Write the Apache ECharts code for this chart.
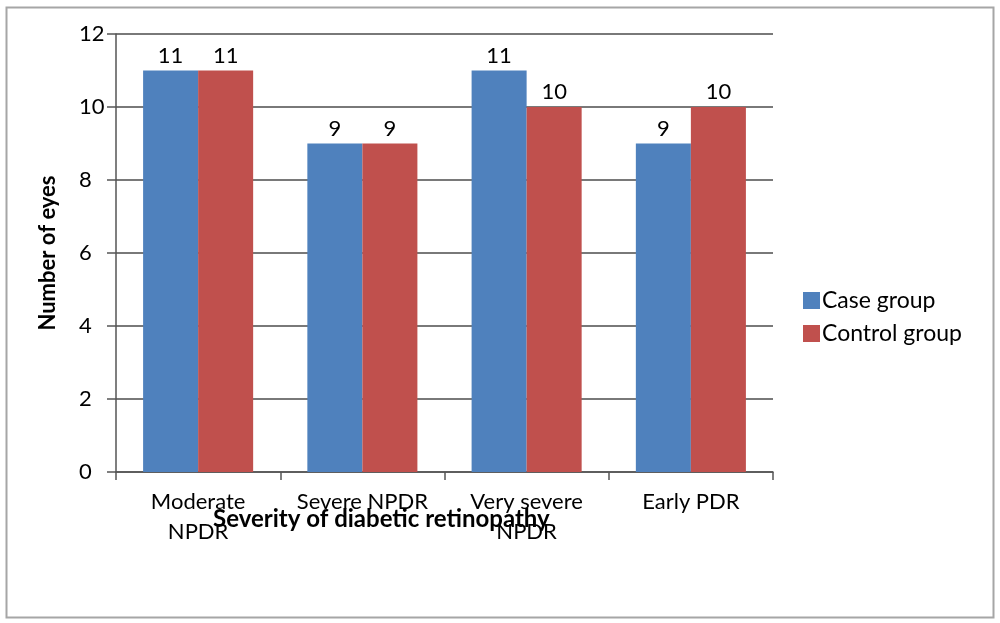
<!DOCTYPE html>
<html><head><meta charset="utf-8">
<script src="https://cdn.jsdelivr.net/npm/echarts@6/dist/echarts.min.js"></script>
<style>html,body{margin:0;padding:0;background:#fff}#c{width:1000px;height:623px}</style>
</head><body><div id="c"></div>
<script>
const categories = ['Moderate\nNPDR', 'Severe NPDR', 'Very severe\nNPDR', 'Early PDR'];
const caseGroup = [11, 9, 11, 9];
const controlGroup = [11, 9, 10, 10];
const seriesNames = ['Case group', 'Control group'];
const yTicks = { min: 0, max: 12, interval: 2 };
const xTitle = 'Severity of diabetic retinopathy';
const yTitle = 'Number of eyes';

const FONT = 'Lato';
const FS = 22;
const chart = echarts.init(document.getElementById('c'), null, { renderer: 'canvas' });
const label = { show: true, position: 'top', color: '#000', fontFamily: FONT, fontSize: FS, distance: 4 };
chart.setOption({
  animation: false,
  textStyle: { fontFamily: FONT },
  graphic: [
    { type: 'rect', shape: { x: 6.5, y: 7.5, width: 987, height: 610 }, style: { fill: 'none', stroke: '#a6a6a6', lineWidth: 2 }, z: -1 },
    { type: 'text', left: 213, top: 507, style: { text: xTitle, font: 'bold 24px ' + FONT, fill: '#000' }, z: 10 }
  ],
  grid: { left: 116, right: 227, top: 34, bottom: 151, containLabel: false },
  legend: {
    orient: 'vertical', left: 798, top: 284, itemWidth: 17, itemHeight: 17, itemGap: 10,
    icon: 'rect',
    textStyle: { fontFamily: FONT, fontSize: 23, color: '#000', padding: [0, 0, 0, -3] },
    data: seriesNames
  },
  xAxis: {
    type: 'category', data: categories,
    axisLine: { lineStyle: { color: '#555', width: 1.5 } },
    axisTick: { show: true, length: 8, lineStyle: { color: '#555', width: 1.5 } },
    axisLabel: { color: '#000', fontSize: FS, fontFamily: FONT, margin: 15, lineHeight: 30, interval: 0 }
  },
  yAxis: {
    type: 'value', min: yTicks.min, max: yTicks.max, interval: yTicks.interval,
    name: yTitle, nameLocation: 'middle', nameGap: 57, nameRotate: 90,
    nameTextStyle: { fontFamily: FONT, fontWeight: 'bold', fontSize: 22, color: '#000' },
    axisLine: { show: true, lineStyle: { color: '#555', width: 1.5 } },
    axisTick: { show: true, length: 9, lineStyle: { color: '#555', width: 1.5 } },
    axisLabel: { color: '#000', fontSize: FS, fontFamily: FONT, margin: 37, align: 'left' },
    splitLine: { show: true, lineStyle: { color: '#4d4d4d', width: 1.5 } }
  },
  series: [
    { name: seriesNames[0], type: 'bar', data: caseGroup, barGap: '0%', barCategoryGap: '33%', itemStyle: { color: '#4F81BD' }, label },
    { name: seriesNames[1], type: 'bar', data: controlGroup, barGap: '0%', barCategoryGap: '33%', itemStyle: { color: '#C0504D' }, label }
  ]
});
</script></body></html>
